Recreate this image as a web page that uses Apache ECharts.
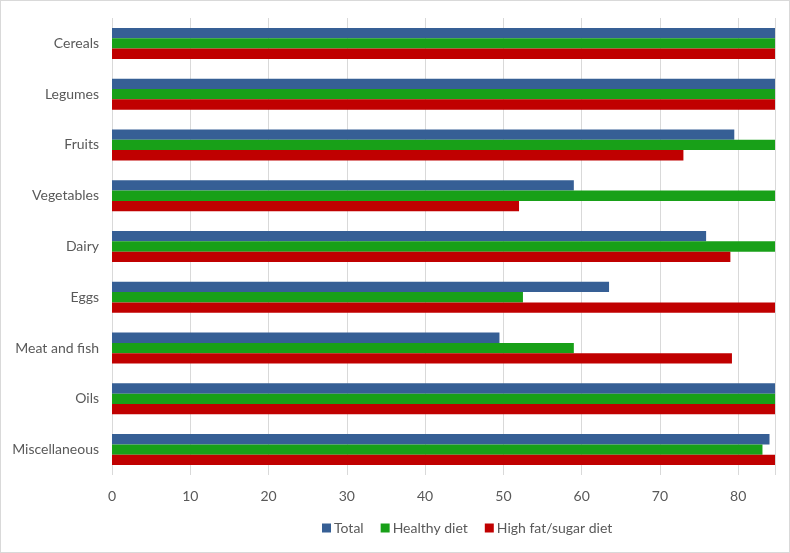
<!DOCTYPE html>
<html>
<head>
<meta charset="utf-8">
<script src="https://cdn.jsdelivr.net/npm/echarts@6/dist/echarts.min.js"></script>
<style>
  html, body { margin: 0; padding: 0; background: #fff; }
  #chart { width: 790px; height: 553px; box-sizing: border-box; border: 1px solid #d9d9d9; }
</style>
</head>
<body>
<div id="chart"></div>
<script>
// categories, top to bottom
const categories = ['Cereals', 'Legumes', 'Fruits', 'Vegetables', 'Dairy', 'Eggs', 'Meat and fish', 'Oils', 'Miscellaneous'];
const totalValues   = [84.7, 84.7, 79.5, 59.0, 75.9, 63.5, 49.5, 84.7, 84.0];
const healthyValues = [84.7, 84.7, 84.7, 84.7, 84.7, 52.5, 59.0, 84.7, 83.1];
const highFatValues = [84.7, 84.7, 73.0, 52.0, 79.0, 84.7, 79.2, 84.7, 84.7];
const seriesNames = ['Total', 'Healthy diet', 'High fat/sugar diet'];
const seriesColors = ['#365f95', '#18a018', '#c00000'];

const chart = echarts.init(document.getElementById('chart'));
const font = 'Lato, "Open Sans", sans-serif';

const makeSeries = (name, data, color) => ({
  name: name,
  type: 'bar',
  data: data,
  barGap: '0%',
  barCategoryGap: '39%',
  itemStyle: { color: color },
  animation: false
});

chart.setOption({
  animation: false,
  grid: { left: 111, right: 14, top: 17, bottom: 77, containLabel: false },
  legend: {
    data: seriesNames,
    bottom: 12,
    left: 316,
    icon: 'rect',
    itemWidth: 9,
    itemHeight: 9,
    itemGap: 17,
    itemStyle: { borderWidth: 0 },
    textStyle: { color: '#595959', fontSize: 14, fontFamily: font, padding: [0, 0, 0, -2] }
  },
  xAxis: {
    type: 'value',
    min: 0,
    max: 84.7,
    interval: 10,
    axisLine: { show: false },
    axisTick: { show: false },
    axisLabel: {
      color: '#595959', fontSize: 14, fontFamily: font, margin: 14,
      showMaxLabel: false
    },
    splitLine: { lineStyle: { color: '#d9d9d9' } }
  },
  yAxis: {
    type: 'category',
    data: categories,
    inverse: true,
    axisLine: { show: false },
    axisTick: { show: false },
    axisLabel: { color: '#595959', fontSize: 14, fontFamily: font, margin: 13 }
  },
  series: [
    makeSeries(seriesNames[0], totalValues, seriesColors[0]),
    makeSeries(seriesNames[1], healthyValues, seriesColors[1]),
    makeSeries(seriesNames[2], highFatValues, seriesColors[2])
  ]
});
</script>
</body>
</html>
